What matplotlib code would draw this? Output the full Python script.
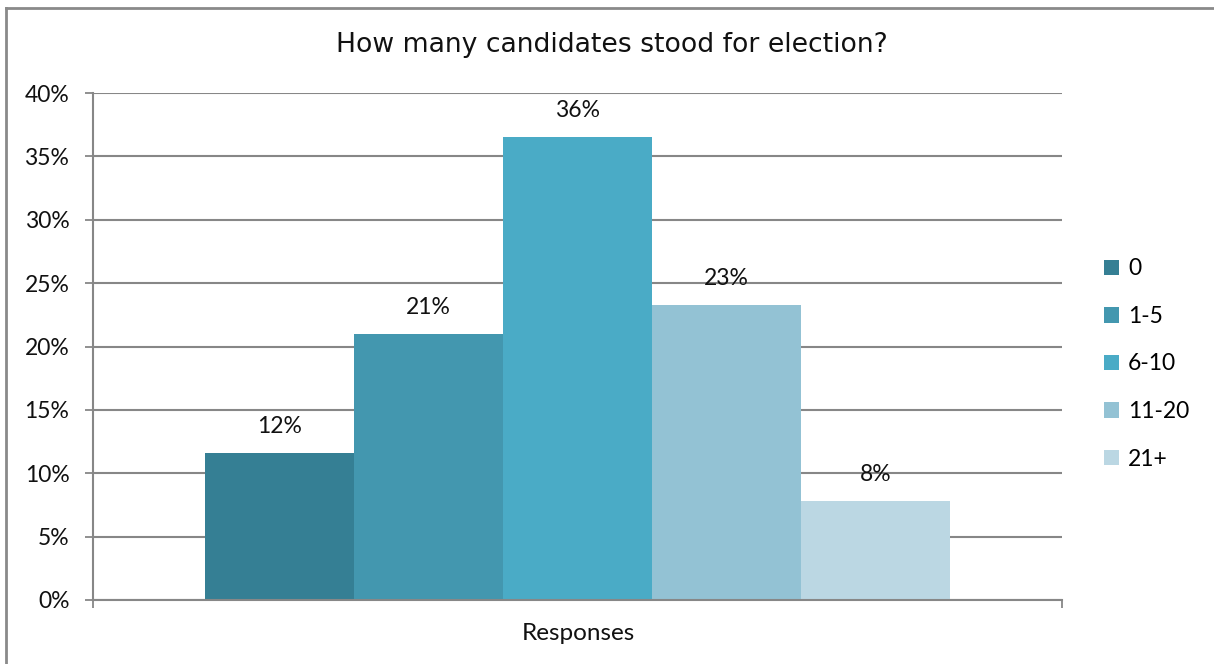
import matplotlib.pyplot as plt
from matplotlib.lines import Line2D
from matplotlib.patches import Patch

plt.rcParams['font.family'] = ['Lato', 'DejaVu Sans']

categories = ['0', '1-5', '6-10', '11-20', '21+']
values = [11.6, 21.0, 36.5, 23.3, 7.8]
labels = ['12%', '21%', '36%', '23%', '8%']
colors = ['#357F94', '#4397AF', '#4AABC6', '#93C2D4', '#BBD7E3']
yticks = [0, 5, 10, 15, 20, 25, 30, 35, 40]

W, H = 1214, 664
fig = plt.figure(figsize=(W / 100, H / 100), dpi=100)
ax = fig.add_axes([93 / W, 1 - 600 / H, (1062 - 93) / W, (600 - 93) / H])

grey = '#878787'
txt = '#111111'
fs = 16.5
bw = 0.1538
start = 0.5 - bw * len(values) / 2
for i, (v, c, lab) in enumerate(zip(values, colors, labels)):
    x = start + bw * (i + 0.5)
    ax.bar(x, v, width=bw, color=c, zorder=3, label=categories[i])
    ax.annotate(lab, (x, v), xytext=(0, 19), textcoords='offset points',
                ha='center', va='center', fontsize=fs, color=txt)

ax.set_xlim(0, 1)
ax.set_ylim(0, 40)
ax.set_yticks(yticks)
ax.set_yticklabels([f'{t}%' for t in yticks], fontsize=fs, color=txt)
ax.yaxis.grid(True, color=grey, linewidth=1.5, zorder=0)
ax.tick_params(axis='y', length=6, width=1.3, color=grey, pad=11)
ax.set_xticks([0, 1])
ax.set_xticklabels(['', ''])
ax.tick_params(axis='x', length=6, width=1.3, color=grey, direction='out')
for s in ['top', 'right']:
    ax.spines[s].set_visible(False)
for s in ['left', 'bottom']:
    ax.spines[s].set_color(grey)
    ax.spines[s].set_linewidth(1.5)
    ax.spines[s].set_zorder(4)

fig.text(578 / W, 1 - 633 / H, 'Responses', ha='center', va='center',
         fontsize=17.5, color=txt)
fig.text(612 / W, 1 - 45 / H, 'How many candidates stood for election?',
         ha='center', va='center', fontsize=19.2, color=txt,
         family=['DejaVu Sans'])

handles = [Patch(facecolor=c, edgecolor='none') for c in colors]
fig.legend(handles, categories, loc='center left',
           bbox_to_anchor=(1104 / W, 1 - 364 / H), frameon=False,
           borderaxespad=0, borderpad=0,
           fontsize=fs, handlelength=0.65, handleheight=0.65,
           handletextpad=0.4, labelspacing=1.16)

# outer chart border (top and left visible)
fig.add_artist(Line2D([6 / W, 1], [1 - 8 / H, 1 - 8 / H], color='#8a8a8a', lw=2,
                      transform=fig.transFigure))
fig.add_artist(Line2D([6 / W, 6 / W], [0, 1 - 8 / H], color='#8a8a8a', lw=2,
                      transform=fig.transFigure))

fig.savefig('out.png', dpi=100, facecolor='white')
